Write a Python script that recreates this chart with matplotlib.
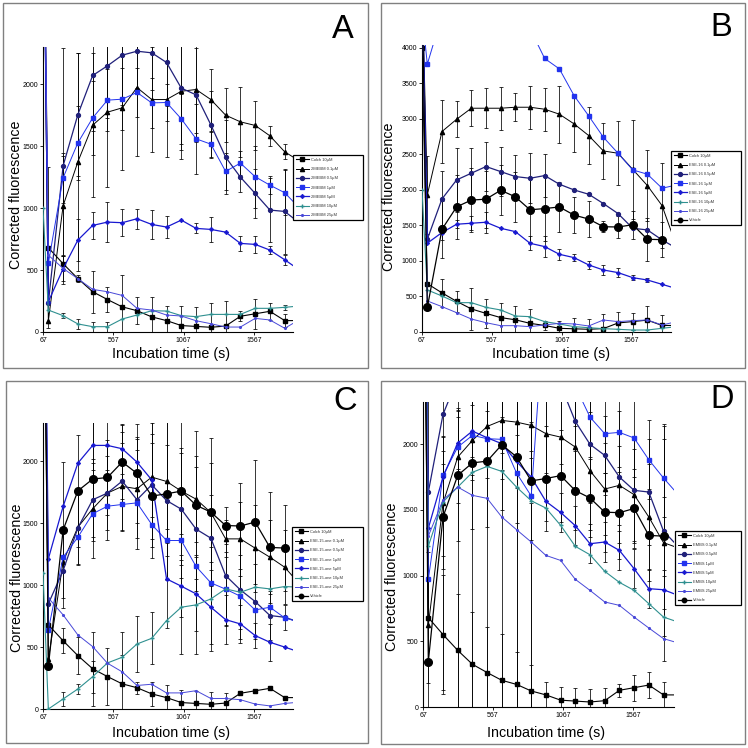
import numpy as np
import matplotlib.pyplot as plt
from matplotlib.patches import Rectangle

plt.rcParams['font.family'] = ['Liberation Sans', 'DejaVu Sans']

nan = np.nan

# sampling times (s); first point is the initial spike at 67 s
times = [67, 105, 210, 315, 420, 525, 630, 735, 840, 945, 1050, 1155, 1260, 1365, 1470, 1575, 1680, 1785, 1890]

# shared controls
colch = [4000, 680, 551, 431, 325, 262, 203, 172, 122, 92, 52, 45, 38, 48, 127, 147, 167, 92, 92]
vehicle = [5000, 345, 1446, 1762, 1857, 1870, 1995, 1903, 1720, 1738, 1760, 1646, 1590, 1482, 1478, 1510, 1305, 1300, nan]

# ---- A: 2MEBM ----
a_01 = [4000, 89, 1019, 1374, 1669, 1774, 1809, 1973, 1876, 1876, 1943, 1957, 1876, 1750, 1696, 1667, 1583, 1454, 1380]
a_05 = [4000, 235, 1341, 1755, 2070, 2148, 2234, 2266, 2253, 2175, 1968, 1914, 1672, 1411, 1250, 1118, 984, 973, 880]
a_1 = [4000, 554, 1245, 1527, 1728, 1871, 1879, 1933, 1849, 1852, 1720, 1559, 1516, 1296, 1363, 1253, 1185, 1124, 1000]
a_5 = [4000, 245, 511, 742, 860, 887, 882, 914, 868, 847, 903, 836, 828, 806, 715, 707, 661, 583, 500]
a_10 = [1000, 177, 132, 65, 43, 43, 105, 137, 172, 169, 132, 124, 142, 142, 142, 191, 191, 199, 210]
a_25 = [4000, 620, 513, 430, 344, 325, 295, 191, 177, 137, 129, 91, 67, 40, 40, 110, 97, 30, 100]

a_colch_err = [0, 650, 60, 30, 170, 100, 260, 110, 160, 120, 160, 160, 200, 200, 40, 120, 70, 50, 0]
a_01_err = [0, 0, 400, 880, 580, 600, 500, 550, 420, 460, 550, 350, 250, 220, 280, 200, 80, 60, 0]
a_05_err = [0, 0, 950, 500, 450, 420, 400, 300, 300, 350, 500, 380, 270, 300, 120, 200, 260, 340, 0]
a_1_err = [0, 0, 200, 300, 300, 250, 250, 200, 200, 150, 200, 280, 100, 150, 100, 250, 70, 180, 0]
a_5_err = [0, 0, 100, 170, 110, 160, 110, 80, 120, 90, 0, 40, 100, 0, 60, 70, 30, 40, 0]
a_10_err = [0, 0, 20, 40, 40, 40, 0, 0, 0, 0, 0, 0, 0, 0, 0, 0, 0, 20, 0]

# ---- B: ESE-16 ----
b_01 = [5000, 1930, 2822, 2995, 3150, 3150, 3150, 3164, 3164, 3136, 3066, 2930, 2765, 2549, 2516, 2290, 2061, 1779, 1200]
b_05 = [5000, 1305, 1873, 2141, 2235, 2329, 2258, 2188, 2164, 2202, 2080, 2000, 1939, 1808, 1667, 1460, 1437, 1296, 1178]
b_1 = [4500, 3770, 4460, 4600, 4650, 4650, 4600, 4450, 4270, 3850, 3704, 3329, 3042, 2742, 2516, 2282, 2221, 2024, 2070]
b_5 = [5000, 1250, 1400, 1517, 1531, 1545, 1460, 1413, 1249, 1202, 1094, 1047, 944, 873, 836, 765, 732, 671, 610]
b_10 = [2000, 592, 507, 413, 413, 347, 310, 225, 216, 146, 113, 75, 61, 47, 38, 28, 28, 52, 75]
b_25 = [5000, 437, 357, 272, 183, 131, 89, 89, 75, 99, 122, 113, 85, 169, 146, 160, 169, 99, 146]

b_colch_err = [0, 0, 200, 150, 300, 200, 200, 200, 200, 60, 100, 150, 150, 200, 150, 120, 200, 150, 0]
b_01_err = [0, 550, 450, 250, 250, 280, 300, 200, 300, 300, 400, 400, 400, 400, 450, 700, 500, 600, 0]
b_05_err = [0, 0, 400, 450, 350, 350, 350, 300, 350, 300, 0, 0, 0, 0, 0, 0, 0, 0, 0]
b_5_err = [0, 0, 100, 60, 100, 150, 0, 0, 100, 150, 80, 50, 60, 70, 60, 40, 30, 0, 0]
b_veh_err = [0, 0, 400, 450, 450, 400, 350, 350, 450, 450, 350, 250, 250, 80, 150, 200, 300, 250, 0]

# ---- C: ESE-15-one ----
c_01 = [5000, 400, 1190, 1469, 1617, 1744, 1798, 1779, 1873, 1838, 1760, 1695, 1587, 1374, 1374, 1299, 1226, 1145, 1010]
c_05 = [5000, 850, 1118, 1463, 1690, 1744, 1841, 1690, 1811, 1684, 1614, 1453, 1380, 1078, 962, 868, 755, 741, 701]
c_1 = [5000, 640, 1226, 1388, 1577, 1638, 1652, 1665, 1490, 1361, 1361, 1151, 1019, 968, 911, 800, 822, 736, 701]
c_5 = [5000, 1213, 1636, 1986, 2129, 2129, 2102, 1994, 1850, 1051, 992, 930, 822, 722, 687, 593, 539, 500, 460]
c_10 = [1100, 0, 81, 162, 261, 372, 418, 525, 571, 714, 822, 841, 889, 970, 943, 984, 970, 989, 984]
c_25 = [5000, 897, 760, 598, 504, 370, 300, 190, 200, 130, 130, 148, 85, 85, 75, 40, 25, 45, 55]

c_colch_err = [0, 0, 100, 150, 300, 230, 230, 50, 100, 100, 100, 100, 100, 80, 0, 0, 0, 0, 0]
c_01_err = [0, 0, 0, 300, 400, 380, 350, 400, 500, 500, 350, 350, 400, 150, 300, 350, 300, 300, 0]
c_05_err = [0, 0, 300, 300, 300, 300, 400, 400, 500, 450, 450, 500, 350, 400, 400, 300, 200, 100, 0]
c_5_err = [0, 0, 0, 0, 200, 200, 200, 200, 300, 400, 250, 300, 300, 200, 150, 100, 150, 0, 0]
c_10_err = [0, 0, 60, 40, 130, 0, 200, 230, 210, 0, 380, 400, 420, 300, 300, 0, 0, 0, 0]
c_veh_err = [0, 0, 550, 450, 500, 300, 300, 400, 500, 700, 700, 600, 600, 150, 350, 500, 450, 350, 0]

# ---- D: EMBS ----
d_01 = [5000, 620, 1550, 1901, 2028, 2134, 2180, 2167, 2142, 2079, 2053, 1977, 1797, 1658, 1686, 1615, 1445, 1250, 1210]
d_05 = [5000, 1635, 2226, 2500, 2600, 2650, 2650, 2650, 2600, 2550, 2450, 2172, 1998, 1914, 1749, 1648, 1635, 1338, 1220]
d_1 = [5000, 971, 1762, 1977, 2066, 2041, 2036, 1780, 1605, 3200, 2900, 2440, 2205, 2079, 2089, 2046, 1881, 1742, 1615]
d_5 = [5000, 1360, 1750, 2008, 2099, 2048, 2003, 1868, 1749, 1564, 1480, 1379, 1242, 1255, 1191, 1052, 900, 892, 849]
d_10 = [5000, 1224, 1560, 1673, 1785, 1830, 1792, 1673, 1569, 1513, 1382, 1222, 1158, 1032, 948, 887, 786, 684, 646]
d_25 = [5000, 1300, 1575, 1673, 1610, 1587, 1445, 1349, 1255, 1153, 1115, 971, 887, 799, 773, 684, 601, 520, 487]

d_colch_err = [0, 500, 450, 430, 400, 350, 350, 250, 200, 100, 100, 100, 100, 100, 50, 100, 100, 100, 0]
d_01_err = [0, 0, 400, 350, 300, 300, 250, 250, 250, 300, 300, 350, 450, 350, 300, 350, 400, 900, 0]
d_05_err = [0, 1900, 2100, 2600, 2600, 2650, 2650, 2650, 2600, 800, 600, 500, 450, 300, 500, 400, 400, 800, 0]
d_1_err = [0, 0, 300, 300, 300, 300, 300, 2000, 1800, 300, 300, 300, 300, 300, 300, 300, 300, 300, 0]
d_5_err = [0, 0, 300, 200, 200, 200, 200, 200, 200, 150, 150, 150, 150, 150, 150, 150, 150, 150, 0]
d_veh_err = [0, 0, 400, 500, 500, 500, 500, 500, 450, 400, 350, 300, 300, 300, 350, 300, 350, 300, 0]

dose_labels = ['0.1µM', '0.5µM', '1µM', '5µM', '10µM', '25µM']

styles = {
    'colch': dict(color='black', marker='s', ms=3.2, lw=0.8),
    '0.1': dict(color='black', marker='^', ms=3.0, lw=0.7),
    '0.5': dict(color='#20207a', marker='o', ms=2.8, lw=0.9),
    '1': dict(color='#2233ee', marker='s', ms=3.2, lw=0.7),
    '5': dict(color='#1818d0', marker=(4, 1, 0), ms=3.0, lw=0.9),
    '10': dict(color='#2f9090', marker='+', ms=3.0, lw=0.8),
    '25': dict(color='#4848d8', marker='.', ms=2.5, lw=0.7),
    'veh': dict(color='black', marker='o', ms=5.5, lw=0.9),
}
dose_keys = ['0.1', '0.5', '1', '5', '10', '25']

W = H = 748.0
fig = plt.figure(figsize=(7.48, 7.48), dpi=100)


def frac_rect(left, top, right, bottom):
    return [left / W, 1 - bottom / H, (right - left) / W, (bottom - top) / H]


def add_errors(ax, vals, errs):
    if errs is None:
        return
    t = [ti for ti, e in zip(times, errs) if e > 0]
    v = [vi for vi, e in zip(vals, errs) if e > 0]
    e = [ei for ei in errs if ei > 0]
    ax.errorbar(t, v, yerr=e, fmt='none', ecolor='black', elinewidth=0.55,
                capsize=1.3, capthick=0.55, zorder=1)


def draw_panel(box, axbox, xmax, ymax, yticks, letter, letter_xy, ylab_xy, xlab_xy,
               legbox, drug, doses, doses_err, colch_err, veh_err, with_vehicle):
    fig.add_artist(Rectangle((box[0] / W, 1 - box[3] / H), (box[2] - box[0]) / W,
                             (box[3] - box[1]) / H, transform=fig.transFigure,
                             fill=False, edgecolor='#808080', lw=1.0))
    ax = fig.add_axes(frac_rect(*axbox))
    handles = []
    labels = []

    add_errors(ax, colch, colch_err)
    h, = ax.plot(times, colch, zorder=3, **styles['colch'])
    handles.append(h)
    labels.append('Colch 10µM')

    for key, lab, vals, errs in zip(dose_keys, dose_labels, doses, doses_err):
        add_errors(ax, vals, errs)
        h, = ax.plot(times, vals, zorder=3, **styles[key])
        handles.append(h)
        labels.append(f'{drug} {lab}')

    if with_vehicle:
        add_errors(ax, vehicle, veh_err)
        h, = ax.plot(times, vehicle, zorder=4, **styles['veh'])
        handles.append(h)
        labels.append('Vehicle')

    ax.set_xlim(67, xmax)
    ax.set_ylim(0, ymax)
    ax.set_xticks([67, 567, 1067, 1567])
    ax.set_yticks(yticks)
    ax.tick_params(labelsize=5, length=2, width=0.6, pad=1.5)
    for s in ['top', 'right']:
        ax.spines[s].set_visible(False)
    for s in ['left', 'bottom']:
        ax.spines[s].set_linewidth(0.8)

    fig.text(ylab_xy[0] / W, 1 - ylab_xy[1] / H, 'Corrected fluorescence',
             rotation=90, ha='center', va='center', fontsize=10.3)
    fig.text(xlab_xy[0] / W, 1 - xlab_xy[1] / H, 'Incubation time (s)',
             ha='center', va='center', fontsize=10.3)
    fig.text(letter_xy[0] / W, 1 - letter_xy[1] / H, letter,
             ha='center', va='center', fontsize=23.5)

    lx0, ly0, lx1, ly1 = legbox
    leg = ax.legend(handles, labels, loc='upper left',
                    bbox_to_anchor=(lx0 / W, 1 - ly1 / H, (lx1 - lx0) / W, (ly1 - ly0) / H),
                    bbox_transform=fig.transFigure, mode='expand', borderaxespad=0,
                    fontsize=2.9, handlelength=3.3, handletextpad=0.4,
                    labelspacing=1.3, borderpad=0.7, fancybox=False, numpoints=1,
                    framealpha=1)
    leg.get_frame().set_edgecolor('black')
    leg.get_frame().set_linewidth(0.9)
    for t in leg.get_texts():
        t.set_color('#333333')
    for lh in leg.legend_handles:
        lh.set_markersize(min(lh.get_markersize(), 3.2))
    return ax


draw_panel((3, 3, 368, 368), (43, 47, 293, 332), 1844, 2300, [0, 500, 1000, 1500, 2000],
           'A', (343, 29), (16, 195), (171, 354), (293, 155, 363, 225), '2MEBM',
           [a_01, a_05, a_1, a_5, a_10, a_25],
           [a_01_err, a_05_err, a_1_err, a_5_err, a_10_err, None],
           a_colch_err, None, False)

draw_panel((381, 3, 745, 368), (422, 45, 671, 332), 1849, 4040,
           [0, 500, 1000, 1500, 2000, 2500, 3000, 3500, 4000],
           'B', (721, 28), (389, 197), (551, 354), (671, 151, 741, 230), 'ESE-16',
           [b_01, b_05, b_1, b_5, b_10, b_25],
           [b_01_err, b_05_err, None, b_5_err, None, None],
           b_colch_err, b_veh_err, True)

draw_panel((6, 381, 368, 743), (43, 423, 293, 709), 1844, 2310, [0, 500, 1000, 1500, 2000],
           'C', (345, 401), (17, 578), (171, 733), (292, 527, 363, 606), 'ESE-15-one',
           [c_01, c_05, c_1, c_5, c_10, c_25],
           [c_01_err, c_05_err, None, c_5_err, c_10_err, None],
           c_colch_err, c_veh_err, True)

draw_panel((381, 381, 745, 744), (423, 402, 674, 707), 1860, 2320, [0, 500, 1000, 1500, 2000],
           'D', (722, 399), (392, 577), (546, 733), (675, 531, 741, 609), 'EMBS',
           [d_01, d_05, d_1, d_5, d_10, d_25],
           [d_01_err, d_05_err, d_1_err, d_5_err, None, None],
           d_colch_err, d_veh_err, True)

fig.savefig('out.png', dpi=100)
